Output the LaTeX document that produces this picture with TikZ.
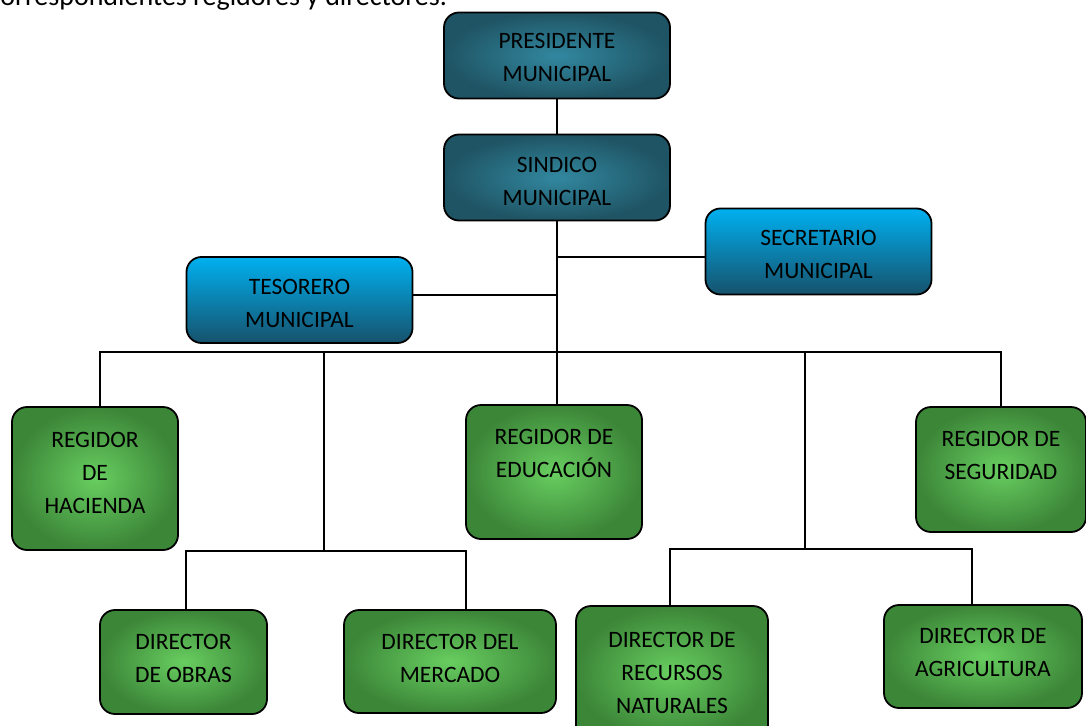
\documentclass[tikz,border=0pt]{standalone}
\usepackage{fontspec}
\setmainfont{Carlito}
\usetikzlibrary{positioning}

\definecolor{tealdark}{RGB}{31,84,100}
\definecolor{teallight}{RGB}{50,136,160}
\definecolor{bluetop}{RGB}{0,176,240}
\definecolor{bluebot}{RGB}{22,82,108}
\definecolor{greenout}{RGB}{60,134,56}
\definecolor{greenin}{RGB}{104,206,96}

\tikzset{
  org/.style={draw=black, line width=1.8pt, rounded corners=15pt, align=center,
    inner sep=0pt, font=\fontsize{23.5}{33}\selectfont},
  jefe/.style={org, inner color=teallight, outer color=tealdark,
    minimum width=226pt, minimum height=86pt},
  apoyo/.style={org, top color=bluetop, bottom color=bluebot,
    minimum width=226pt, minimum height=86pt},
  area/.style={org, inner color=greenin, outer color=greenout},
  drop/.style={text height=#1, text depth=0pt},
  link/.style={draw=black, line width=1.3pt},
}

\begin{document}
\begin{tikzpicture}[x=1pt,y=-1pt]
  \clip (0,0) rectangle (1086,725);

  % line cut by the page top
  \node[anchor=base east, inner sep=0pt, font=\fontsize{28}{30}\selectfont] (intro) at (447,5.5)
    {correspondientes regidores y directores.};

  % mando
  \node[jefe, drop=52pt] (pres) at (557,55.5) {PRESIDENTE\\MUNICIPAL};
  \node[jefe, drop=56pt] (sin) at (557,177.5) {SINDICO\\MUNICIPAL};
  \node[apoyo, drop=54pt] (sec) at (818.5,251.5) {SECRETARIO\\MUNICIPAL};
  \node[apoyo, drop=55pt] (tes) at (299.5,300) {TESORERO\\MUNICIPAL};

  % regidores
  \node[area, drop=70pt, minimum width=166pt, minimum height=143pt] (hac) at (95,478.5) {REGIDOR\\DE\\HACIENDA};
  \node[area, drop=11pt, minimum width=176pt, minimum height=134pt] (edu) at (554,472) {REGIDOR DE\\EDUCACIÓN};
  \node[area, drop=20pt, minimum width=170pt, minimum height=125pt] (seg) at (1001,469.5) {REGIDOR DE\\SEGURIDAD};

  % directores
  \node[area, drop=41pt, minimum width=167pt, minimum height=104pt] (obr) at (183.5,662) {DIRECTOR\\DE OBRAS};
  \node[area, drop=42pt, minimum width=212pt, minimum height=103pt] (mer) at (450,661.5) {DIRECTOR DEL\\MERCADO};
  \node[area, drop=81pt, minimum width=192pt, minimum height=134pt] (rec) at (672,673) {DIRECTOR DE\\RECURSOS\\NATURALES};
  \node[area, drop=40pt, minimum width=198pt, minimum height=103pt] (agr) at (983,656.5) {DIRECTOR DE\\AGRICULTURA};

  \coordinate (bus) at (557,352);
  \coordinate (busL) at (324,352);
  \coordinate (busR) at (805,352);
  \coordinate (dirL) at (324,551);
  \coordinate (dirR) at (805,549);

  \draw[link] (pres) -- (sin);
  \draw[link] (sin) -- (bus);
  \draw[link] ([yshift=-5.5pt]sec.west) -- ([yshift=-5.5pt]sec.west -| bus);
  \draw[link] ([yshift=5pt]tes.east) -- ([yshift=5pt]tes.east -| bus);
  \draw[link] ([xshift=5pt]hac.north) |- (bus) -| (seg.north);
  \draw[link] (bus) -- (edu.north -| bus);
  \draw[link] (busL) -- (dirL);
  \draw[link] (busR) -- (dirR);
  \draw[link] ([xshift=2.5pt]obr.north) |- (dirL) -| ([xshift=16pt]mer.north);
  \draw[link] ([xshift=-2pt]rec.north) |- (dirR) -| ([xshift=-11pt]agr.north);
\end{tikzpicture}
\end{document}
